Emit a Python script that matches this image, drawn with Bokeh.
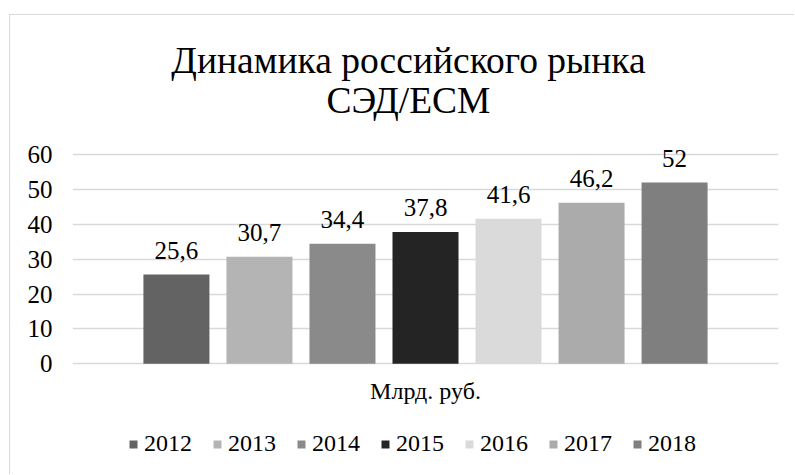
from bokeh.plotting import figure
from bokeh.models import ColumnDataSource, FactorRange, Legend, LegendItem, Label
from bokeh.transform import dodge
from bokeh.core.properties import value
from bokeh.embed import file_html
from bokeh.resources import INLINE

title_line1 = "Динамика российского рынка"
title_line2 = "СЭД/ЕСМ"
category = "Млрд. руб."
years = ["2012", "2013", "2014", "2015", "2016", "2017", "2018"]
values = [25.6, 30.7, 34.4, 37.8, 41.6, 46.2, 52.0]
colors = ["#636363", "#b4b4b4", "#8a8a8a", "#242424", "#dadada", "#ababab", "#7f7f7f"]
y_ticks = [0, 10, 20, 30, 40, 50, 60]

FONT = "'Liberation Serif', 'Times New Roman', serif"

W, H = 785, 460
BL, BR = 62, 17
# the 0..60 part of the value axis is 209 px tall and starts 139 px below the
# top of the chart box; the frame covers the whole box height so that the
# title, category label and legend can sit inside it
PX_PER_UNIT = 209.3 / 60
TOP_GAP = 139
Y_MAX = 60 + TOP_GAP / PX_PER_UNIT
Y_MIN = 60 - (H - TOP_GAP) / PX_PER_UNIT

p = figure(
    x_range=FactorRange(factors=[category], range_padding=0),
    y_range=(Y_MIN, Y_MAX),
    width=W, height=H,
    output_backend="svg", toolbar_location=None,
    min_border_left=BL, min_border_right=BR, min_border_top=0, min_border_bottom=0,
    background_fill_color="white", border_fill_color="white",
)
p.styles = {"margin-top": "14px", "margin-left": "9px",
            "border-top": "1px solid #d9d9d9", "border-left": "1px solid #d9d9d9"}
p.outline_line_color = None
p.title = None

for txt, yy in [(title_line1, 415), (title_line2, 375)]:
    p.add_layout(Label(x=336, y=yy, x_units="screen", y_units="screen", text=txt,
                       text_align="center", text_baseline="alphabetic",
                       text_font=FONT, text_font_size="37.5px", text_color="black"))

step = 0.1176
width = 0.0935
items = []
for i, (yr, v, c) in enumerate(zip(years, values, colors)):
    off = (i - 3) * step
    src = ColumnDataSource(dict(cat=[category], val=[v], lab=[f"{v:g}".replace(".", ",")]))
    r = p.vbar(x=dodge("cat", off, range=p.x_range), top="val", width=width, source=src,
               fill_color=c, line_color=None)
    p.text(x=dodge("cat", off, range=p.x_range), y="val", text="lab", source=src,
           text_align="center", text_baseline="alphabetic", y_offset=-24,
           text_font=value(FONT), text_font_size="25px", text_color="black")
    items.append(LegendItem(label=yr, renderers=[r]))

# category label under the bars (at the zero line, pushed down)
cat_src = ColumnDataSource(dict(cat=[category], y=[0]))
p.text(x="cat", y="y", text="cat", source=cat_src, text_align="center",
       text_baseline="alphabetic", y_offset=27,
       text_font=value(FONT), text_font_size="24px", text_color="black")

legend = Legend(items=items, orientation="horizontal", location=(56, 18),
                glyph_width=10, glyph_height=10, label_standoff=6, spacing=20,
                padding=0, margin=0, border_line_color=None, background_fill_alpha=0,
                label_text_font=FONT, label_text_font_size="24px", label_text_color="black")
p.add_layout(legend, "center")

p.xgrid.grid_line_color = None
p.ygrid.grid_line_color = "#d9d9d9"
p.ygrid.grid_line_width = 1.5
p.yaxis.ticker = y_ticks
p.yaxis.axis_line_color = None
p.yaxis.major_tick_line_color = None
p.yaxis.minor_tick_line_color = None
p.yaxis.major_tick_out = 0
p.yaxis.major_label_standoff = 20
p.yaxis.major_label_text_font = FONT
p.yaxis.major_label_text_font_size = "25px"
p.yaxis.major_label_text_color = "black"

p.xaxis.visible = False

open("out.html", "w").write(file_html(p, INLINE))
